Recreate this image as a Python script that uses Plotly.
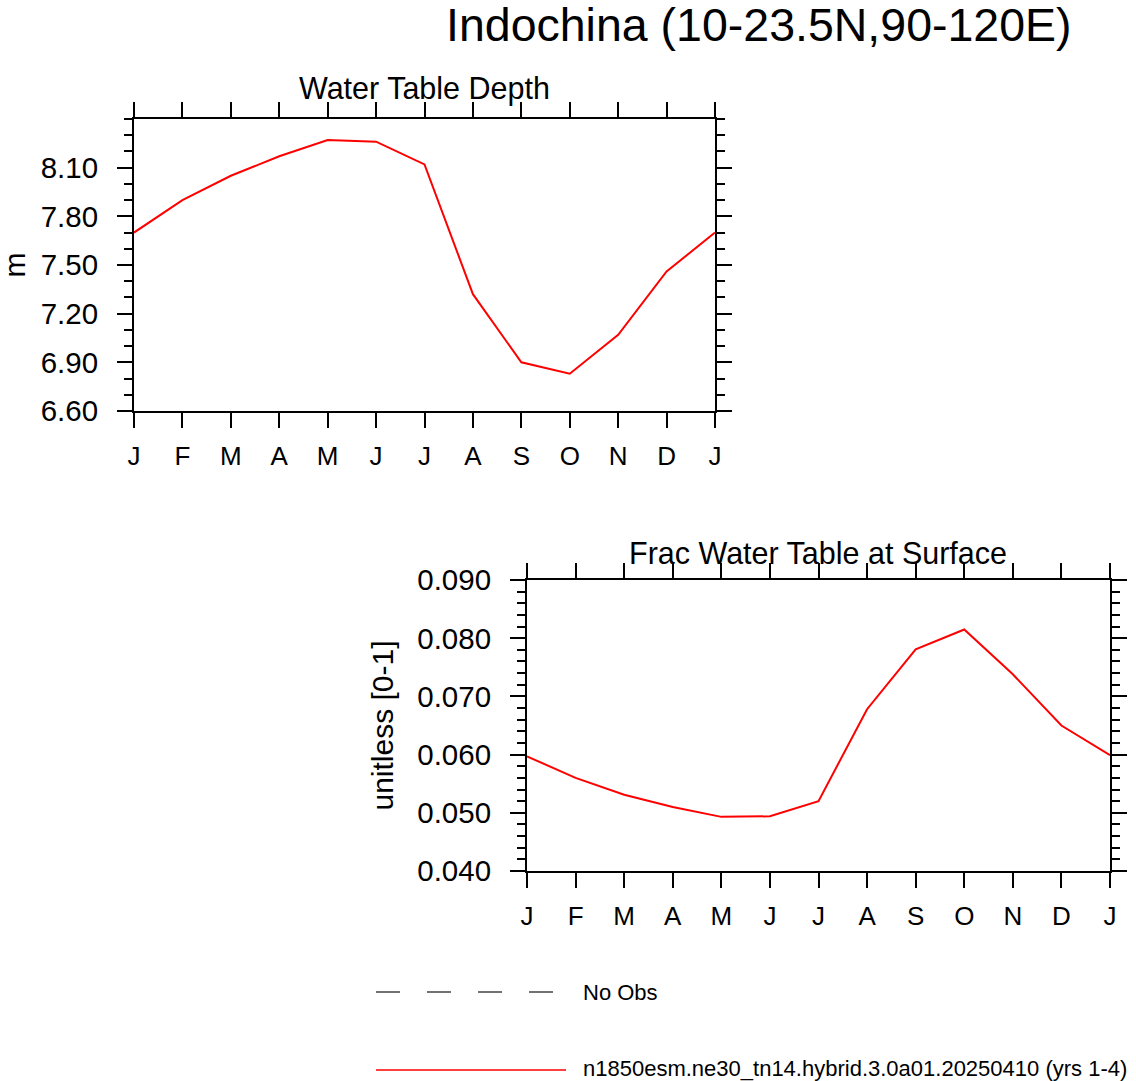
import plotly.graph_objects as go

months = ["J", "F", "M", "A", "M", "J", "J", "A", "S", "O", "N", "D", "J"]
month_idx = list(range(13))

# Water table depth (m)
wtd = [7.70, 7.90, 8.05, 8.17, 8.27, 8.26, 8.12, 7.32, 6.90, 6.83, 7.07, 7.46, 7.70]
# fraction of water table at surface (unitless)
frac = [0.0597, 0.0560, 0.0531, 0.0510, 0.0493, 0.0494, 0.0520,
        0.0678, 0.0781, 0.0815, 0.0738, 0.0650, 0.0599]

wtd_ticks = [6.6, 6.9, 7.2, 7.5, 7.8, 8.1]
frac_ticks = [0.04, 0.05, 0.06, 0.07, 0.08, 0.09]

case_name = "n1850esm.ne30_tn14.hybrid.3.0a01.20250410 (yrs 1-4)"

W, H = 1136, 1081
FONT = "Liberation Sans, Arial, sans-serif"

fig = go.Figure()
fig.add_trace(go.Scatter(x=month_idx, y=wtd, mode="lines",
                         line=dict(color="#ff0000", width=2),
                         xaxis="x", yaxis="y", showlegend=False))
fig.add_trace(go.Scatter(x=month_idx, y=frac, mode="lines",
                         line=dict(color="#ff0000", width=2),
                         xaxis="x2", yaxis="y2", showlegend=False))

xax = dict(range=[0, 12], tickmode="array", tickvals=month_idx, ticktext=months,
           showgrid=False, zeroline=False, showline=True, linecolor="black",
           linewidth=2, mirror="ticks", ticks="outside", ticklen=15,
           tickwidth=2, tickcolor="black", ticklabelstandoff=6,
           automargin=False, tickfont=dict(size=26, color="black"))
yax_common = dict(showgrid=False, zeroline=False, showline=True, linecolor="black",
                  linewidth=2, mirror="ticks", ticks="outside", ticklen=15,
                  tickwidth=2, tickcolor="black", ticklabelstandoff=13,
                  automargin=False, tickfont=dict(size=29.5, color="black"))

# pixel -> paper helpers
def px(x):
    return x / W

def py(y):
    return 1 - y / H

fig.update_layout(
    width=W, height=H,
    margin=dict(l=0, r=0, t=0, b=0),
    paper_bgcolor="white", plot_bgcolor="white",
    font=dict(family=FONT, color="black"),
    xaxis=dict(xax, domain=[px(134), px(715)], anchor="y"),
    yaxis=dict(yax_common, domain=[py(411), py(119)], anchor="x",
               range=[6.6, 8.4], tickvals=wtd_ticks,
               ticktext=["%.2f" % v for v in wtd_ticks],
               minor=dict(dtick=0.1, tick0=6.6, ticks="outside", ticklen=8,
                          tickwidth=1.5, tickcolor="black", showgrid=False)),
    xaxis2=dict(xax, domain=[px(527), px(1110)], anchor="y2"),
    yaxis2=dict(yax_common, domain=[py(871), py(580)], anchor="x2",
                range=[0.04, 0.09], tickvals=frac_ticks,
                ticktext=["%.3f" % v for v in frac_ticks],
                minor=dict(dtick=0.002, tick0=0.04, ticks="outside", ticklen=8,
                           tickwidth=1.5, tickcolor="black", showgrid=False),
                title=dict(text="unitless [0-1]", font=dict(size=30))),
)

annotations = [
    dict(text="Indochina (10-23.5N,90-120E)", x=px(759), y=py(25),
         font=dict(size=46.5)),
    dict(text="Water Table Depth", x=px(425), y=py(88), font=dict(size=30.5)),
    dict(text="Frac Water Table at Surface", x=px(818), y=py(553),
         font=dict(size=30.5)),
    # y title of the upper panel sits closer to the edge than plotly puts it
    dict(text="m", x=px(14), y=py(265), textangle=-90, font=dict(size=30),
         width=30, height=24),
    dict(text="No Obs", x=px(581), y=py(992), xanchor="left",
         font=dict(size=22)),
    dict(text=case_name, x=px(581), y=py(1068), xanchor="left",
         font=dict(size=22)),
]
for a in annotations:
    a.update(xref="paper", yref="paper", showarrow=False)
    a.setdefault("xanchor", "center")
    a["yanchor"] = "middle"
fig.update_layout(annotations=annotations)

# legend keys drawn as lines next to the legend text
fig.add_shape(type="line", xref="paper", yref="paper",
              x0=px(376), x1=px(556), y0=py(992), y1=py(992),
              line=dict(color="#444444", width=1.5, dash="24px,27px"))
fig.add_shape(type="line", xref="paper", yref="paper",
              x0=px(376), x1=px(566), y0=py(1070), y1=py(1070),
              line=dict(color="#ff0000", width=1.5))

# drop the default page margin so the figure sits at the window's corner
fig.write_html("out.html", config={"displayModeBar": False},
               post_script="document.body.style.margin = '0';")
